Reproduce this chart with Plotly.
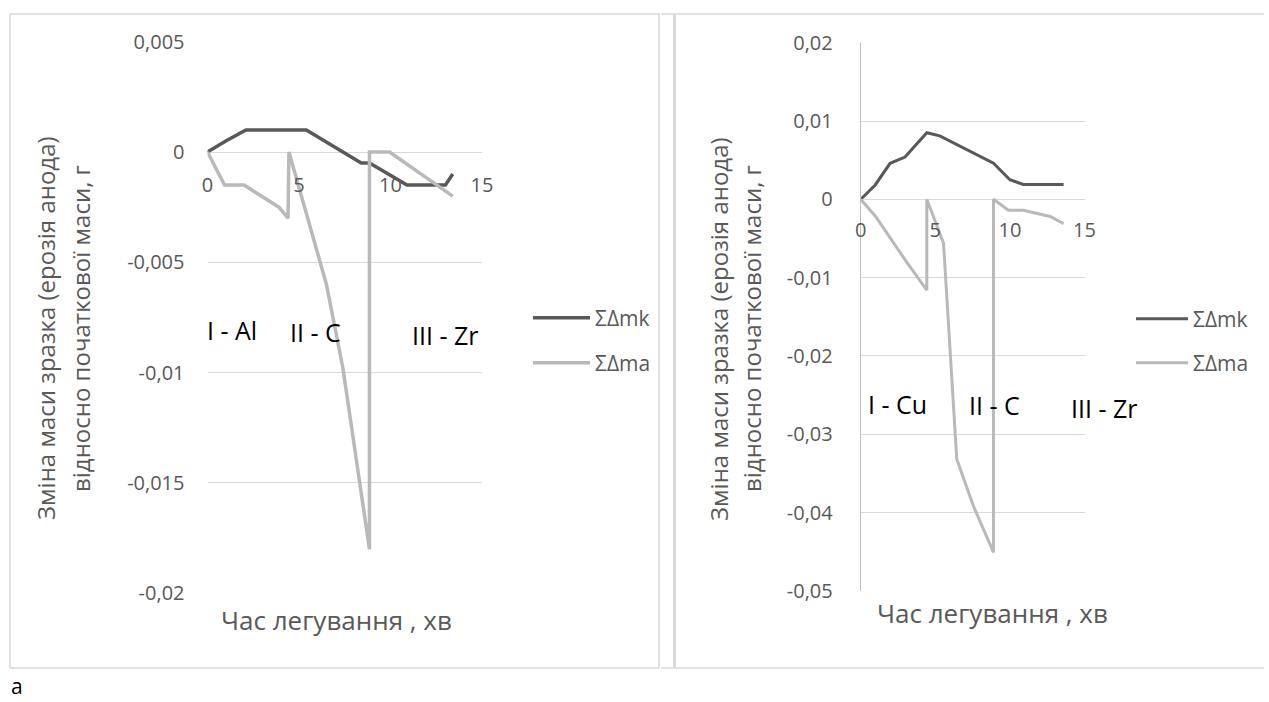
import plotly.graph_objects as go

W, H = 1269, 702

# ---------------- data ----------------
# Left chart (I - Al, II - C, III - Zr)
left_mk_t = [0, 1.0, 2.1, 5.4, 8.4, 8.85, 10.9, 13.0, 13.4]
left_mk_v = [0, 0.0005, 0.001, 0.001, -0.0005, -0.0005, -0.0015, -0.0015, -0.001]
left_ma_t = [0, 0.93, 2.0, 3.9, 4.4, 4.45, 6.5, 7.4, 8.85, 8.85, 9.95, 13.4]
left_ma_v = [0, -0.0015, -0.0015, -0.0025, -0.003, 0, -0.006, -0.0098, -0.018, 0, 0, -0.002]

# Right chart (I - Cu, II - C, III - Zr)
right_mk_t = [0, 0.96, 1.97, 2.97, 4.43, 5.3, 8.9, 10.0, 10.9, 13.6]
right_mk_v = [0, 0.0018, 0.0046, 0.0054, 0.0085, 0.0081, 0.0046, 0.0025, 0.0019, 0.0019]
right_ma_t = [0, 1.0, 3.0, 4.43, 4.43, 5.55, 6.44, 7.56, 8.9, 8.9, 9.9, 10.9, 12.7, 13.6]
right_ma_v = [0, -0.0022, -0.0078, -0.0116, 0, -0.0056, -0.0332, -0.0392, -0.0451, 0, -0.0014, -0.0014, -0.0022, -0.0031]

series_names = ["ΣΔmk", "ΣΔma"]

x_tickvals = [0, 5, 10, 15]
x_ticktext = ["0", "5", "10", "15"]
left_y_tickvals = [0.005, 0, -0.005, -0.01, -0.015, -0.02]
left_y_ticktext = ["0,005", "0", "-0,005", "-0,01", "-0,015", "-0,02"]
right_y_tickvals = [0.02, 0.01, 0, -0.01, -0.02, -0.03, -0.04, -0.05]
right_y_ticktext = ["0,02", "0,01", "0", "-0,01", "-0,02", "-0,03", "-0,04", "-0,05"]

left_labels = ["I - Al", "II - C", "III - Zr"]
right_labels = ["I - Cu", "II - C", "III - Zr"]
y_title_1 = "Зміна маси зразка (ерозія анода)"
y_title_2 = "відносно початкової маси, г"
x_title = "Час легування , хв"

# ---------------- styling ----------------
FONT = "Open Sans"
DARK = "#595959"
LIGHT = "#b9b9b9"
TXT = "#595959"
GRID = "#d9d9d9"


def px(x):
    return x / W


def py(y):
    return 1 - y / H


fig = go.Figure()

fig.add_trace(go.Scatter(x=left_mk_t, y=left_mk_v, mode="lines", name=series_names[0],
                         line=dict(color=DARK, width=3.5), xaxis="x", yaxis="y", legend="legend"))
fig.add_trace(go.Scatter(x=left_ma_t, y=left_ma_v, mode="lines", name=series_names[1],
                         line=dict(color=LIGHT, width=3.5), xaxis="x", yaxis="y", legend="legend2"))
fig.add_trace(go.Scatter(x=right_mk_t, y=right_mk_v, mode="lines", name=series_names[0],
                         line=dict(color=DARK, width=3), xaxis="x2", yaxis="y2", legend="legend3"))
fig.add_trace(go.Scatter(x=right_ma_t, y=right_ma_v, mode="lines", name=series_names[1],
                         line=dict(color=LIGHT, width=3), xaxis="x2", yaxis="y2", legend="legend4"))

tickfont = dict(family=FONT, size=20, color=TXT)

# plot areas (pixel positions)
L = dict(x0=207.5, x1=482, y0=41.7, y1=593.3, zero=152)
R = dict(x0=860.7, x1=1084.5, y0=42.7, y1=590.8, zero=199.3)

layout = dict(
    width=W, height=H,
    margin=dict(l=0, r=0, t=0, b=0, autoexpand=False),
    paper_bgcolor="white", plot_bgcolor="white",
    showlegend=True,
    xaxis=dict(domain=[px(L["x0"]), px(L["x1"])], range=[0, 15], anchor="free",
               position=py(L["zero"]), tickvals=x_tickvals, ticktext=x_ticktext,
               showgrid=False, zeroline=False, showline=False, ticks="", automargin=False,
               tickfont=tickfont, ticklabelstandoff=19),
    yaxis=dict(domain=[py(L["y1"]), py(L["y0"])], range=[-0.02, 0.005], anchor="x",
               tickvals=left_y_tickvals, ticktext=left_y_ticktext, automargin=False,
               showgrid=True, gridcolor=GRID, gridwidth=1, zeroline=False, showline=False,
               ticks="", tickfont=tickfont, ticklabelstandoff=22),
    xaxis2=dict(domain=[px(R["x0"]), px(R["x1"])], range=[0, 15], anchor="free",
                position=py(R["zero"]), tickvals=x_tickvals, ticktext=x_ticktext,
                showgrid=False, zeroline=False, showline=False, ticks="", automargin=False,
                tickfont=tickfont, ticklabelstandoff=17),
    yaxis2=dict(domain=[py(R["y1"]), py(R["y0"])], range=[-0.05, 0.02], anchor="x2",
                tickvals=right_y_tickvals, ticktext=right_y_ticktext, automargin=False,
                showgrid=True, gridcolor=GRID, gridwidth=1, zeroline=False,
                showline=True, linecolor="#bfbfbf", linewidth=1,
                ticks="", tickfont=tickfont, ticklabelstandoff=23),
)

legfont = dict(family=FONT, size=21, color=TXT)
for name, xx, yy, iw in [("legend", 528, 318, 57), ("legend2", 528, 363, 57),
                         ("legend3", 1131, 319, 52), ("legend4", 1131, 363, 52)]:
    layout[name] = dict(x=px(xx), y=py(yy), xanchor="left", yanchor="middle", itemwidth=iw,
                        font=legfont, bgcolor="rgba(0,0,0,0)", borderwidth=0)

fig.update_layout(**layout)

# chart frames
frame = dict(color="#d9d9d9", width=1.5)
shapes = [
    dict(type="rect", xref="paper", yref="paper", x0=px(10), x1=px(659), y0=py(668), y1=py(14), line=frame),
    dict(type="line", xref="paper", yref="paper", x0=px(661), x1=px(1264), y0=py(14), y1=py(14), line=frame),
    dict(type="line", xref="paper", yref="paper", x0=px(661), x1=px(1264), y0=py(668), y1=py(668), line=frame),
    dict(type="line", xref="paper", yref="paper", x0=px(674.5), x1=px(674.5), y0=py(668), y1=py(14),
         line=dict(color="#d9d9d9", width=3)),
]
fig.update_layout(shapes=shapes)

ann = []
ytitlefont = dict(family=FONT, size=24, color=TXT)
xtitlefont = dict(family=FONT, size=26, color=TXT)
# y-axis titles (two lines each)
for cx1, cx2, cy in [(45, 80, 328), (718, 751, 329)]:
    ann.append(dict(text=y_title_1, x=px(cx1), y=py(cy), xref="paper", yref="paper",
                    textangle=-90, showarrow=False, font=ytitlefont, xanchor="center", yanchor="middle"))
    ann.append(dict(text=y_title_2, x=px(cx2), y=py(cy), xref="paper", yref="paper",
                    textangle=-90, showarrow=False, font=ytitlefont, xanchor="center", yanchor="middle"))
# x-axis titles
for cx, cy in [(336, 620), (992, 613)]:
    ann.append(dict(text=x_title, x=px(cx), y=py(cy), xref="paper", yref="paper",
                    showarrow=False, font=xtitlefont, xanchor="center", yanchor="middle"))
# stage labels
labfont = dict(family=FONT, size=25, color="#000000")
for txt, cx, cy in zip(left_labels, [232, 315, 445], [330, 332, 335]):
    ann.append(dict(text=txt, x=px(cx), y=py(cy), xref="paper", yref="paper",
                    showarrow=False, font=labfont, xanchor="center", yanchor="middle"))
for txt, cx, cy in zip(right_labels, [897, 994, 1104], [404, 405, 408]):
    ann.append(dict(text=txt, x=px(cx), y=py(cy), xref="paper", yref="paper",
                    showarrow=False, font=labfont, xanchor="center", yanchor="middle"))
ann.append(dict(text="a", x=px(9), y=py(686), xref="paper", yref="paper", showarrow=False,
                font=dict(family=FONT, size=21, color="#000000"), xanchor="left", yanchor="middle"))
fig.update_layout(annotations=ann)

fig.write_html("out.html", config={"displayModeBar": False},
               post_script="document.body.style.margin='0';document.body.style.overflow='hidden';")
